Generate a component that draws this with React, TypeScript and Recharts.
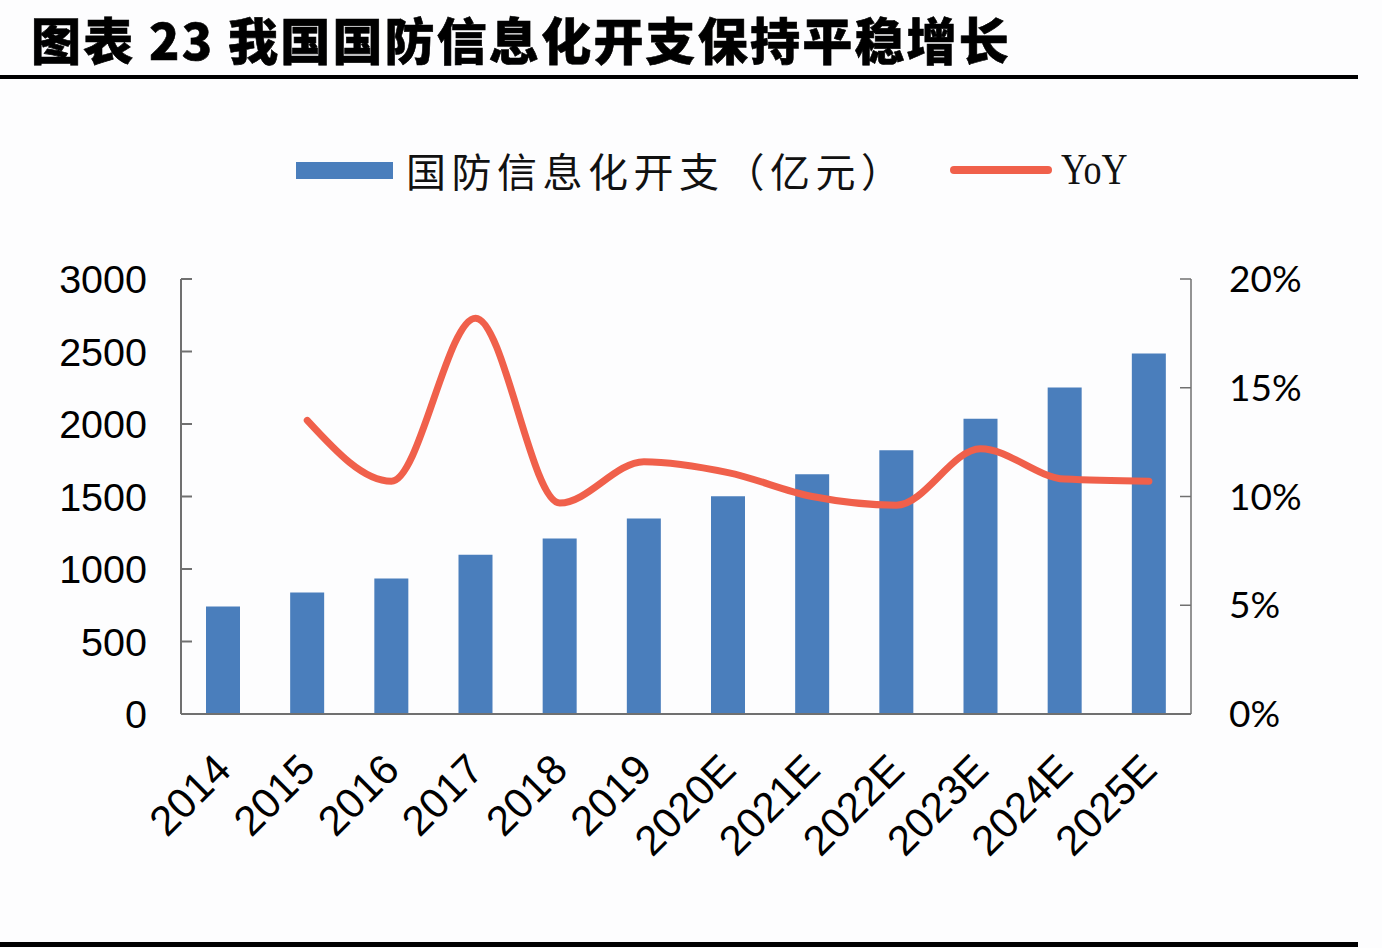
import React from 'react';
import { ComposedChart, Bar, Line, XAxis, YAxis } from 'recharts';

// 国防信息化开支（亿元）与同比增速
const years = ['2014', '2015', '2016', '2017', '2018', '2019', '2020E', '2021E', '2022E', '2023E', '2024E', '2025E'];
const spending = [741, 838, 935, 1098, 1211, 1349, 1501, 1653, 1819, 2037, 2251, 2487];
const yoy = [null, 13.5, 10.7, 18.2, 9.7, 11.6, 11.1, 10.0, 9.6, 12.2, 10.8, 10.7];
const leftTicks = [0, 500, 1000, 1500, 2000, 2500, 3000];
const rightTicks = [0, 5, 10, 15, 20];

const BAR_COLOR = '#4A7EBC';
const LINE_COLOR = '#F0604B';
const AXIS_COLOR = '#707070';
const SANS = '"Liberation Sans", Arial, sans-serif';

const data = years.map((year, i) => ({ year, spending: spending[i], yoy: yoy[i] }));

// rotated category label, anchored a little left of the bar centre
const YearTick = (props: any) => {
  const { x, y, payload } = props;
  const ax = x - 11;
  return (
    <text
      x={ax}
      y={y}
      dy="0.71em"
      textAnchor="end"
      transform={`rotate(-45, ${ax}, ${y})`}
      fill="#000"
      fontSize={42}
      fontFamily={SANS}
    >
      {payload.value}
    </text>
  );
};

const App: React.FC = () => {
  return (
    <div style={{ position: 'absolute', left: 0, top: 0, width: 1382, height: 948, background: '#fdfdfe', overflow: 'hidden' }}>
      <div
        style={{
          position: 'absolute',
          left: 31,
          top: 13,
          fontFamily: '"Noto Sans CJK SC", sans-serif',
          fontWeight: 900,
          fontSize: 50,
          lineHeight: '50px',
          letterSpacing: 2.2,
          color: '#000',
          whiteSpace: 'nowrap',
          WebkitTextStroke: '0.6px #000',
        }}
      >
        图表 23 我国国防信息化开支保持平稳增长
      </div>
      <div style={{ position: 'absolute', left: 0, top: 75, width: 1358, height: 4, background: '#000' }} />
      <div style={{ position: 'absolute', left: 0, top: 942, width: 1358, height: 5, background: '#000' }} />

      {/* legend */}
      <div style={{ position: 'absolute', left: 296, top: 162, width: 97, height: 17, background: BAR_COLOR }} />
      <div
        style={{
          position: 'absolute',
          left: 406,
          top: 148,
          fontFamily: '"Noto Sans CJK SC", sans-serif',
          fontSize: 40,
          lineHeight: '44px',
          letterSpacing: 5.5,
          color: '#111',
          whiteSpace: 'nowrap',
        }}
      >
        国防信息化开支（亿元）
      </div>
      <div style={{ position: 'absolute', left: 950, top: 166, width: 102, height: 8, borderRadius: 4, background: LINE_COLOR }} />
      <div
        style={{
          position: 'absolute',
          left: 1061,
          top: 146,
          fontFamily: '"Liberation Serif", serif',
          fontSize: 44,
          lineHeight: '48px',
          color: '#111',
          transform: 'scaleX(0.82)',
          transformOrigin: 'left center',
        }}
      >
        YoY
      </div>

      <div style={{ position: 'absolute', left: 0, top: 0 }}>
        <ComposedChart width={1382} height={948} data={data} margin={{ top: 279, right: 0, bottom: 0, left: 0 }}>
          <XAxis
            dataKey="year"
            height={234}
            interval={0}
            tickLine={false}
            tickSize={0}
            tickMargin={37}
            stroke={AXIS_COLOR}
            strokeWidth={2}
            tick={<YearTick />}
          />
          <YAxis
            yAxisId="left"
            orientation="left"
            width={181}
            domain={[0, 3000]}
            ticks={leftTicks}
            interval={0}
            tickSize={-11}
            tickMargin={45}
            stroke={AXIS_COLOR}
            strokeWidth={2}
            tick={{ fill: '#000', fontSize: 39.5, fontFamily: SANS }}
          />
          <YAxis
            yAxisId="right"
            orientation="right"
            width={191}
            domain={[0, 20]}
            ticks={rightTicks}
            interval={0}
            tickSize={-11}
            tickMargin={49}
            textAnchor="start"
            tickFormatter={(v: number) => `${v}%`}
            stroke={AXIS_COLOR}
            strokeWidth={1.5}
            tick={{ fill: '#000', fontSize: 37, fontFamily: 'Lato, sans-serif' }}
          />
          <Bar yAxisId="left" dataKey="spending" fill={BAR_COLOR} barSize={34} isAnimationActive={false} />
          <Line
            yAxisId="right"
            type="monotone"
            dataKey="yoy"
            stroke={LINE_COLOR}
            strokeWidth={7}
            strokeLinecap="round"
            dot={false}
            connectNulls
            isAnimationActive={false}
          />
        </ComposedChart>
      </div>
    </div>
  );
};

export default App;
